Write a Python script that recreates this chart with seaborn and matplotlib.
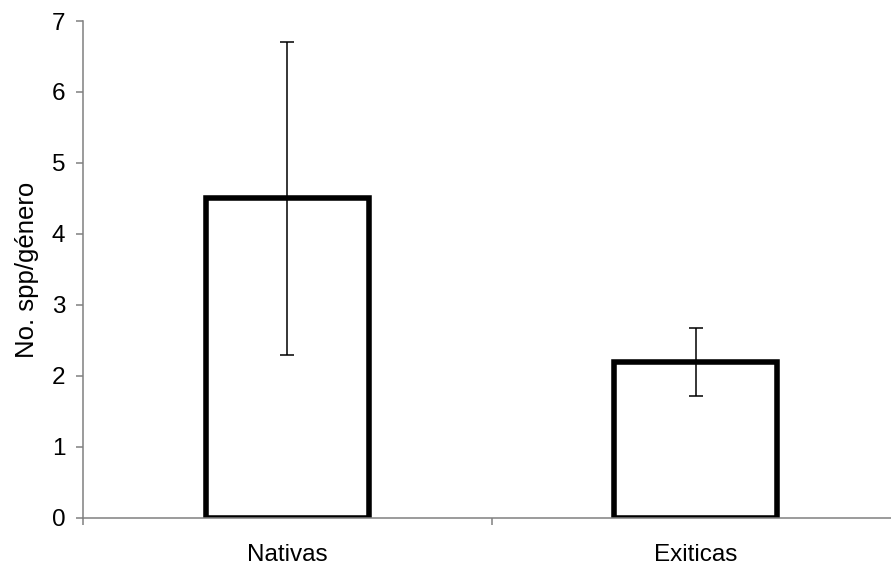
import pandas as pd
import matplotlib.pyplot as plt
import numpy as np
import seaborn as sns
from matplotlib.ticker import FixedLocator

grupos = ['Nativas', 'Exiticas']
media = [4.5, 2.2]
error = [2.2, 0.48]

data = pd.DataFrame({'grupo': grupos, 'spp': media})

sns.set_style('white')
plt.rcParams['font.family'] = ['Liberation Sans', 'DejaVu Sans']
plt.rcParams['text.color'] = 'black'
plt.rcParams['axes.labelcolor'] = 'black'
plt.rcParams['xtick.labelcolor'] = 'black'
plt.rcParams['ytick.labelcolor'] = 'black'

fig = plt.figure(figsize=(8.91, 5.67), dpi=100)
ax = fig.add_axes([0.0935, 0.0869, 0.9166, 0.876])

sns.barplot(data=data, x='grupo', y='spp', ax=ax, width=0.4,
            color='white', edgecolor='black', linewidth=4, errorbar=None)
ax.errorbar(range(len(grupos)), media, yerr=error, fmt='none',
            ecolor='black', elinewidth=1.1, capsize=5, capthick=1.1)

ax.set_ylim(0, 7)
ax.set_xlim(-0.5, 1.5)
ax.set_yticks(range(8))
ax.set_xlabel('')
ax.set_ylabel('No. spp/género', fontsize=18.5, labelpad=9, color='black')

for s in ['top', 'right']:
    ax.spines[s].set_visible(False)
for s in ['left', 'bottom']:
    ax.spines[s].set_color('#808080')
    ax.spines[s].set_linewidth(1.1)

ax.tick_params(axis='y', which='major', length=5, width=1.1, color='#808080',
               direction='out', left=True, labelsize=17.5, pad=8, labelcolor='black')
ax.tick_params(axis='x', which='major', length=0, labelsize=17.5, pad=19, labelcolor='black')
ax.xaxis.set_minor_locator(FixedLocator([-0.5, 0.5, 1.5]))
ax.tick_params(axis='x', which='minor', length=5, width=1.1, color='#808080',
               direction='out', bottom=True)

plt.savefig('out.png', dpi=100)
